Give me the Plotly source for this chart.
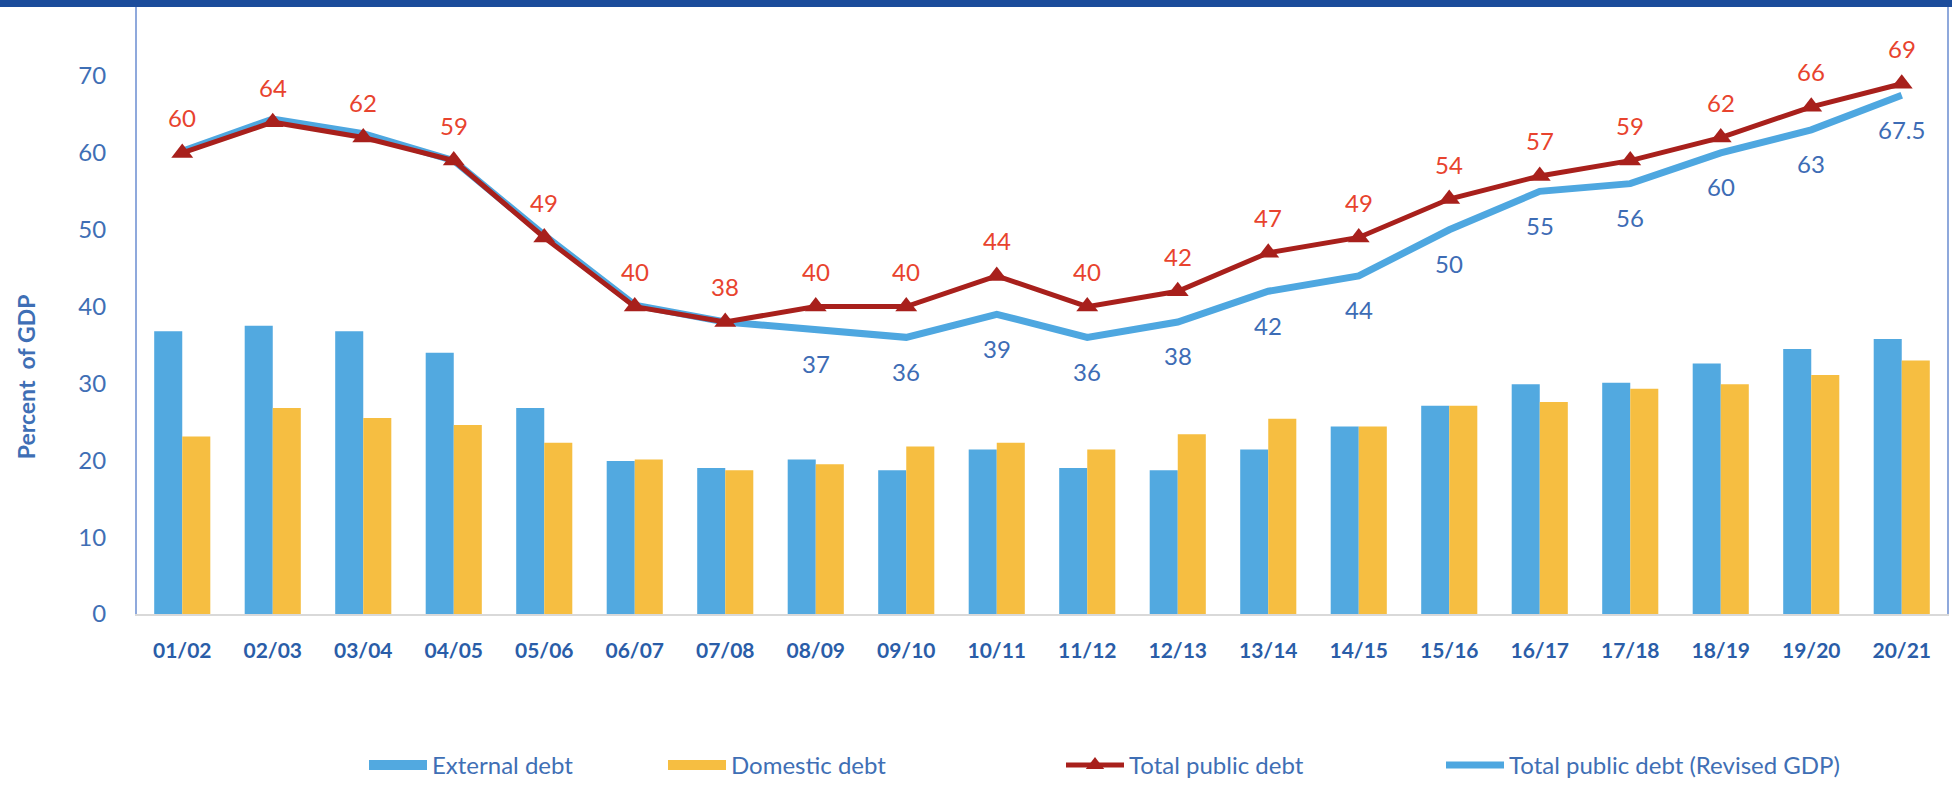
import plotly.graph_objects as go

# Fiscal years
years = ["01/02", "02/03", "03/04", "04/05", "05/06", "06/07", "07/08", "08/09", "09/10", "10/11",
         "11/12", "12/13", "13/14", "14/15", "15/16", "16/17", "17/18", "18/19", "19/20", "20/21"]

# Debt as percent of GDP
external_debt = [36.8, 37.5, 36.8, 34.0, 26.8, 19.9, 19.0, 20.1, 18.7, 21.4,
                 19.0, 18.7, 21.4, 24.4, 27.1, 29.9, 30.1, 32.6, 34.5, 35.8]
domestic_debt = [23.1, 26.8, 25.5, 24.6, 22.3, 20.1, 18.7, 19.5, 21.8, 22.3,
                 21.4, 23.4, 25.4, 24.4, 27.1, 27.6, 29.3, 29.9, 31.1, 33.0]
total_public_debt = [60, 64, 62, 59, 49, 40, 38, 40, 40, 44,
                     40, 42, 47, 49, 54, 57, 59, 62, 66, 69]
total_debt_revised_gdp = [60.2, 64.4, 62.5, 59.0, 49.3, 40.2, 38.0, 37, 36, 39,
                          36, 38, 42, 44, 50, 55, 56, 60, 63, 67.5]
# The revised series is labelled from 08/09 onwards
revised_label_start = 7

C_EXT = "#52A9E0"
C_DOM = "#F6BE41"
C_TOTAL = "#A8201C"
C_TOTAL_TXT = "#E8432E"
C_REV = "#4EA7E0"
C_REV_TXT = "#3D6CB5"
C_AXIS_TXT = "#3F6FB5"
C_XTICK = "#2A5DA8"
FONT = "Lato"

fig = go.Figure()

fig.add_trace(go.Bar(x=years, y=external_debt, name="External debt", marker_color=C_EXT,
                     marker_line_width=0, showlegend=False))
fig.add_trace(go.Bar(x=years, y=domestic_debt, name="Domestic debt", marker_color=C_DOM,
                     marker_line_width=0, showlegend=False))

fig.add_trace(go.Scatter(x=years, y=total_debt_revised_gdp, mode="lines",
                         name="Total public debt (Revised GDP)",
                         line=dict(color=C_REV, width=7), showlegend=False))
fig.add_trace(go.Scatter(x=years, y=total_public_debt, mode="lines+markers",
                         name="Total public debt",
                         line=dict(color=C_TOTAL, width=5),
                         marker=dict(symbol="triangle-up", size=19, color=C_TOTAL),
                         showlegend=False))

# Legend entries, each in its own legend box along the bottom
fig.add_trace(go.Scatter(x=[None], y=[None], mode="lines", name="External debt",
                         line=dict(color=C_EXT, width=14), legend="legend"))
fig.add_trace(go.Scatter(x=[None], y=[None], mode="lines", name="Domestic debt",
                         line=dict(color=C_DOM, width=14), legend="legend2"))
fig.add_trace(go.Scatter(x=[None], y=[None], mode="lines+markers", name="Total public debt",
                         line=dict(color=C_TOTAL, width=5),
                         marker=dict(symbol="triangle-up", size=19, color=C_TOTAL),
                         legend="legend3"))
fig.add_trace(go.Scatter(x=[None], y=[None], mode="lines", name="Total public debt (Revised GDP)",
                         line=dict(color=C_REV, width=7), legend="legend4"))

annotations = []
for yr, v in zip(years, total_public_debt):
    annotations.append(dict(x=yr, y=v, text=f"{v:g}", showarrow=False, yshift=35,
                            font=dict(family=FONT, size=24, color=C_TOTAL_TXT)))
for yr, v in zip(years[revised_label_start:], total_debt_revised_gdp[revised_label_start:]):
    annotations.append(dict(x=yr, y=v, text=f"{v:g}", showarrow=False, yshift=-34,
                            font=dict(family=FONT, size=24, color=C_REV_TXT)))

W, H = 1952, 788
ML, MR, MT, MB = 137, 5, 0, 168
PW, PH = W - ML - MR, H - MT - MB

annotations.append(dict(text="Percent  of GDP", xref="paper", yref="paper",
                        x=(26 - ML) / PW, y=(620 - 381) / PH, textangle=-90,
                        showarrow=False, xanchor="center", yanchor="middle",
                        font=dict(family=FONT, size=23, color=C_AXIS_TXT, weight="bold")))

legend_common = dict(orientation="h", y=(620 - 773) / PH, yanchor="middle", xanchor="left",
                     bgcolor="rgba(0,0,0,0)", itemwidth=58,
                     font=dict(family=FONT, size=24, color=C_AXIS_TXT))

def lx(px):
    return (px - ML) / PW

fig.update_layout(
    width=W, height=H,
    margin=dict(l=ML, r=MR, t=MT, b=MB),
    paper_bgcolor="white", plot_bgcolor="white",
    barmode="group", bargap=0.38, bargroupgap=0,
    font=dict(family=FONT),
    xaxis=dict(type="category", range=[-0.5, len(years) - 0.5], showline=True,
               linecolor="#D9D9D9", linewidth=2,
               showgrid=False, ticks="", ticklabelstandoff=17,
               tickfont=dict(family=FONT, size=21, color=C_XTICK, weight="bold")),
    yaxis=dict(range=[0, 79.9], dtick=10, showline=True, mirror=True, linecolor="#8FA9DC",
               linewidth=2, showgrid=False, zeroline=False, ticks="", ticklabelstandoff=24,
               tickfont=dict(family=FONT, size=24, color=C_AXIS_TXT)),
    legend=dict(legend_common, x=lx(364)),
    legend2=dict(legend_common, x=lx(663)),
    legend3=dict(legend_common, x=lx(1061)),
    legend4=dict(legend_common, x=lx(1441)),
    annotations=annotations,
    shapes=[dict(type="rect", xref="paper", yref="paper", x0=-ML / PW, x1=1 + MR / PW,
                 y0=1 - 7 / PH, y1=1, fillcolor="#1B4C9B", line_width=0, layer="above")],
)

fig.write_html("out.html")
